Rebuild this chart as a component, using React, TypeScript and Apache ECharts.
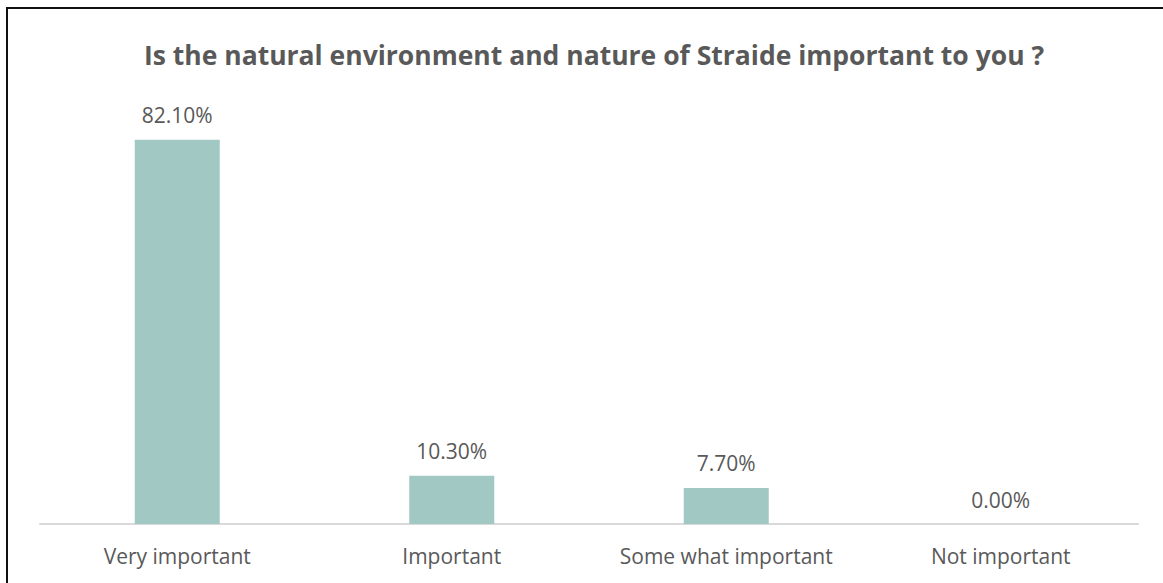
import React, { useEffect, useRef } from "react";
import * as echarts from "echarts";

const categories = ["Very important", "Important", "Some what important", "Not important"];
const shares = [82.1, 10.3, 7.7, 0.0];
const chartTitle = "Is the natural environment and nature of Straide important to you ?";

const textColor = "#595959";
const barColor = "#a2c8c4";
const fontFamily = "'Open Sans', sans-serif";

export default function App() {
  const ref = useRef<HTMLDivElement>(null);

  useEffect(() => {
    if (!ref.current) return;
    const chart = echarts.init(ref.current, null, { renderer: "svg" });
    chart.setOption({
      animation: false,
      backgroundColor: "#ffffff",
      title: {
        text: chartTitle,
        left: 589,
        textAlign: "center",
        top: 36,
        textStyle: { color: textColor, fontSize: 26.5, fontWeight: "bold", fontFamily },
      },
      graphic: [
        { type: "rect", shape: { x: 6, y: 7, width: 1157, height: 2 }, style: { fill: "#111" } },
        { type: "rect", shape: { x: 6, y: 7, width: 2, height: 576 }, style: { fill: "#111" } },
      ],
      grid: { left: 40, right: 25, top: 56, bottom: 59, containLabel: false },
      xAxis: {
        type: "category",
        data: categories,
        axisLine: { lineStyle: { color: "#d9d9d9", width: 2 } },
        axisTick: { show: false },
        axisLabel: { color: textColor, fontSize: 21, fontFamily, margin: 21, interval: 0 },
      },
      yAxis: {
        type: "value",
        min: 0,
        max: 100,
        show: false,
        splitLine: { show: false },
      },
      series: [
        {
          type: "bar",
          data: shares,
          barWidth: 85,
          itemStyle: { color: barColor },
          label: {
            show: true,
            position: "top",
            distance: 14,
            color: textColor,
            fontSize: 21,
            fontFamily,
            formatter: (p: any) => `${Number(p.value).toFixed(2)}%`,
          },
        },
      ],
    });
    return () => chart.dispose();
  }, []);

  return (
    <div
      ref={ref}
      style={{ position: "fixed", left: 0, top: 0, width: 1163, height: 583 }}
    />
  );
}
